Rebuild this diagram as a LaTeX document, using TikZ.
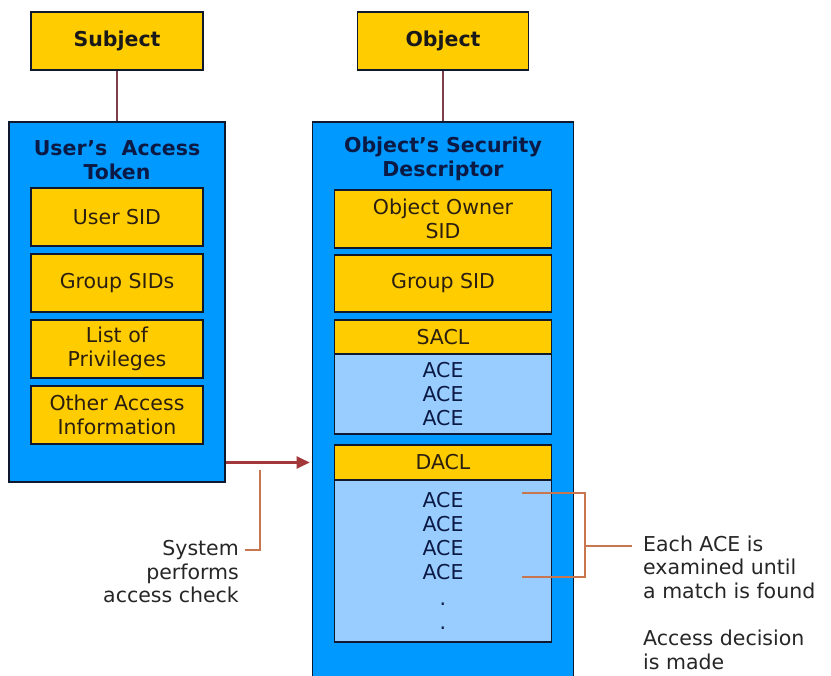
\documentclass[tikz,border=0pt]{standalone}
\usepackage{fontspec}
\setmainfont{DejaVu Sans}
\usetikzlibrary{arrows.meta}

\definecolor{gold}{HTML}{FFCC00}
\definecolor{skyblue}{HTML}{0099FF}
\definecolor{paleblue}{HTML}{99CCFF}
\definecolor{edge}{HTML}{10182E}
\definecolor{navy}{HTML}{0B1A45}
\definecolor{ink}{HTML}{2A1E10}
\definecolor{maroon}{HTML}{7E3E4C}
\definecolor{arrowred}{HTML}{A3383A}
\definecolor{rust}{HTML}{C8764E}

\tikzset{
    base/.style={draw=edge, line width=1.6pt, align=center, inner sep=0pt,
                 font=\fontsize{20.5}{24}\selectfont},
    goldbox/.style={base, fill=gold, text=ink},
    headbox/.style={goldbox, font=\fontsize{20.5}{24}\selectfont\bfseries, text=black!90},
    bluebox/.style={base, fill=skyblue},
    acebox/.style={base, fill=paleblue, text=navy},
    title/.style={align=center, inner sep=0pt, text=navy,
                  font=\fontsize{20.5}{24}\selectfont\bfseries},
    notetext/.style={inner sep=0pt, text=black!85, font=\fontsize{20.5}{23.5}\selectfont},
    link/.style={draw=maroon, line width=2.4pt},
    checkarrow/.style={draw=arrowred, line width=2.4pt,
                       -{Triangle[length=13pt,width=12pt]}, shorten >=2pt},
    note/.style={draw=rust, line width=2.4pt},
}

\begin{document}
\begin{tikzpicture}[x=1pt,y=-1pt]
    \clip (0,0) rectangle (831,676);
    \fill[white] (0,0) rectangle (831,676);

    % subject side
    \node[headbox, minimum width=172pt, minimum height=58pt] (subject) at (117,41) {Subject};
    \node[bluebox, minimum width=216pt, minimum height=360pt] (token) at (117,302) {};
    \node[title]                                               (tokentitle) at (117,160) {User's\ \ Access\\Token};
    \node[goldbox, minimum width=172pt, minimum height=58pt]   (usersid)   at (117,217) {User SID};
    \node[goldbox, minimum width=172pt, minimum height=58pt]   (groupsids) at (117,283) {Group SIDs};
    \node[goldbox, minimum width=172pt, minimum height=58pt]   (privs)     at (117,349) {List of\\Privileges};
    \node[goldbox, minimum width=172pt, minimum height=58pt]   (otherinfo) at (117,415) {Other Access\\Information};

    % object side
    \node[headbox, minimum width=171pt, minimum height=58pt] (object) at (443,41) {Object};
    \node[bluebox, minimum width=261pt, minimum height=620pt] (descr) at (443,432) {};
    \node[title]                                               (descrtitle) at (443,159) {Object's Security\\Descriptor};
    \node[goldbox, minimum width=217pt, minimum height=58pt]   (ownersid) at (443,219) {Object Owner\\SID};
    \node[goldbox, minimum width=217pt, minimum height=57pt]   (groupsid) at (443,283.5) {Group SID};
    \node[goldbox, minimum width=217pt, minimum height=34pt]   (sacl)     at (443,337) {SACL};
    \node[acebox,  minimum width=217pt, minimum height=80pt]   (sacelist) at (443,394) {ACE\\ACE\\ACE};
    \node[goldbox, minimum width=217pt, minimum height=35pt]   (dacl)     at (443,462.5) {DACL};
    \node[acebox,  minimum width=217pt, minimum height=162pt]  (dacelist) at (443,561) {ACE\\ACE\\ACE\\ACE\\[2pt].\\.};

    \draw[link] (subject) -- (token);
    \draw[link] (object) -- (descr);
    \draw[checkarrow] (token.east |- dacl) -- (descr.west |- dacl);

    % access check note
    \coordinate (systop) at (260,470);
    \coordinate (sysend) at (245,550);
    \draw[note] (systop) |- (sysend);
    \node[notetext, anchor=east, align=right] (syscheck) at (239,572) {System\\performs\\access check};

    % ACE bracket
    \coordinate (acetop) at (522,493);
    \coordinate (acemid) at (585,546);
    \coordinate (acebot) at (522,577);
    \coordinate (acetip) at (632,546);
    \draw[note] (acetop) -| (acemid) |- (acebot);
    \draw[note] (acemid) -- (acetip);
    \node[notetext, anchor=west, align=left] (examined) at (643,567) {Each ACE is\\examined until\\a match is found};
    \node[notetext, anchor=west, align=left] (decision) at (643,650) {Access decision\\is made};
\end{tikzpicture}
\end{document}
